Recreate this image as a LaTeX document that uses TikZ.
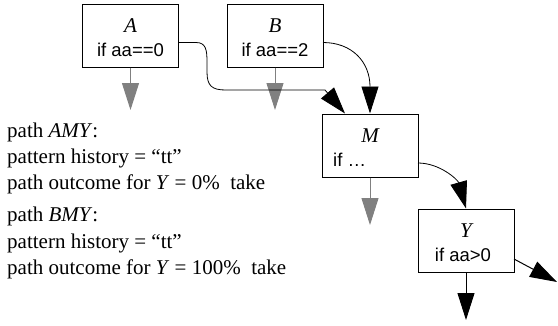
\documentclass[tikz,border=0pt]{standalone}
\usepackage{fontspec}
\setmainfont{Liberation Serif}
\setsansfont{Liberation Sans}
\usetikzlibrary{arrows.meta,calc}
\definecolor{arrgray}{RGB}{128,128,128}
\tikzset{
  blk/.style={draw, line width=1pt, minimum width=96pt, minimum height=63pt, inner sep=0pt},
  ttl/.style={font=\fontsize{21}{23}\selectfont\itshape, inner sep=0pt},
  cond/.style={font=\fontsize{18.5}{22}\selectfont\sffamily, inner sep=0pt},
  txt/.style={font=\fontsize{21}{23}\selectfont, anchor=base west, inner sep=0pt},
  bigtip/.style={-{Triangle[length=27pt,width=17pt]}},
  grayarr/.style={draw=arrgray, fill=arrgray, line width=1pt, bigtip},
  blkarr/.style={draw=black, line width=1pt, bigtip},
  conn/.style={draw=black, line width=0.8pt, bigtip}
}
\begin{document}
\begin{tikzpicture}[x=1pt,y=-1pt]
\useasboundingbox (0,0) rectangle (558,325);
% boxes
\node[blk] (A) at (130.5,35.5) {};
\node[blk] (B) at (275,35.5) {};
\node[blk] (M) at (370,145.5) {};
\node[blk] (Y) at (466,240.5) {};
% labels
\node[ttl] (At) at (130.5,26) {A};
\node[cond] (Ac) at (130.5,50) {if aa==0};
\node[ttl] (Bt) at (275,26) {B};
\node[cond] (Bc) at (275,50) {if aa==2};
\node[ttl] (Mt) at (370,136) {M};
\node[cond, anchor=west] (Mc) at (333,160) {if \dots};
\node[ttl] (Yt) at (466,231) {Y};
\node[cond] (Yc) at (463,255) {if aa>0};
% free ends
\coordinate (Aend) at (130.5,110);
\coordinate (Bend) at (275,110);
\coordinate (Mend) at (370,225);
\coordinate (Yend) at (466,320);
\coordinate (Yright) at (557,282);
\coordinate (Aout) at (179,42.5);
\coordinate (Bout) at (323,42.5);
\coordinate (Min1) at ($(M.north)+(-25,0)$);
\coordinate (Mout) at (418,163);
\coordinate (Yout) at (514,259);
% gray arrows
\draw[grayarr] (A.south) -- (Aend);
\draw[grayarr] (B.south) -- (Bend);
\draw[grayarr] (M.south) -- (Mend);
% black arrows
\draw[blkarr] (Y.south) -- (Yend);
\draw[blkarr] (Yout) -- (Yright);
\draw[conn] (Aout) -- (196,42.5) .. controls (206,42.5) and (207,50) .. (207,62) -- (207,72) .. controls (207,86) and (212,90) .. (226,90) -- (325,90) -- (Min1);
\draw[conn] (Bout) .. controls (352,42.5) and (370,62) .. (M.north);
\draw[conn] (Mout) .. controls (440,163) and (458,180) .. (Y.north);
% text
\node[txt] (t1) at (7,137) {path \textit{AMY}:};
\node[txt] (t2) at (7,163) {pattern history = ``tt''};
\node[txt] (t3) at (7,189) {path outcome for \textit{Y} = 0\%\ \ take};
\node[txt] (t4) at (7,221) {path \textit{BMY}:};
\node[txt] (t5) at (7,248) {pattern history = ``tt''};
\node[txt] (t6) at (7,274) {path outcome for \textit{Y} = 100\%\ \ take};
\end{tikzpicture}
\end{document}
